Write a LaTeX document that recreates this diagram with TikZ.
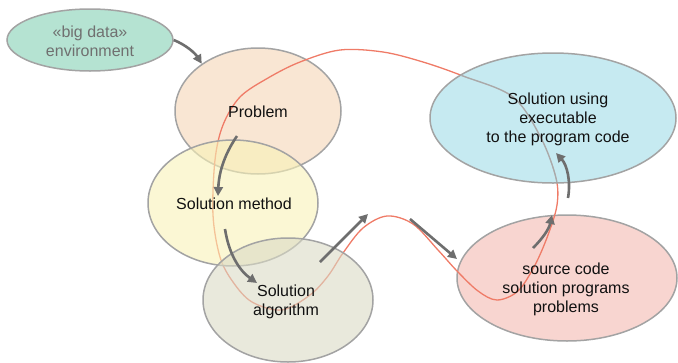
\documentclass[tikz,border=0pt]{standalone}
\usepackage{fontspec}
\setmainfont{Liberation Sans}
\usetikzlibrary{shapes.geometric,arrows.meta}

\definecolor{outl}{HTML}{A3A3A3}
\definecolor{envfill}{RGB}{181,227,210}
\definecolor{probfill}{RGB}{249,230,211}
\definecolor{methfill}{RGB}{248,242,183}
\definecolor{algfill}{RGB}{218,218,197}
\definecolor{exefill}{RGB}{184,229,238}
\definecolor{srcfill}{RGB}{248,213,208}
\definecolor{loopred}{HTML}{EF7B67}
\definecolor{loopgray}{HTML}{A9A9A9}
\definecolor{arrowgray}{HTML}{6E6E6E}
\definecolor{envtext}{HTML}{707070}
\definecolor{maintext}{HTML}{111111}

\tikzset{
  blob/.style={ellipse, draw=outl, line width=1.5pt, inner sep=0pt},
  label16/.style={font=\fontsize{16}{19}\selectfont, text=maintext, align=center, inner sep=0pt},
  flow/.style={draw=arrowgray, line width=2.6pt,
    -{Triangle[length=9pt,width=9pt]}},
  loopline/.style={line width=1.3pt},
}

% closed wavy path running through all stages
\def\looppath{plot[smooth cycle, tension=0.55] coordinates {
  (213,215) (215,160) (223,125) (240,97) (268,78) (300,62) (340,50)
  (383,52) (423,62) (463,76) (513,97) (541,138) (556,178) (557,205)
  (548,235) (535,265) (518,291) (497,300) (478,291) (457,271)
  (438,250) (413,224) (387,216) (363,228) (343,253) (328,276)
  (310,295) (282,310) (252,302) (233,282) (220,257)}}

\begin{document}
\begin{tikzpicture}[x=1pt,y=-1pt]
\useasboundingbox (0,0) rectangle (678,362);

% stage ellipses below the loop
\node[blob, fill=envfill, minimum width=166pt, minimum height=62pt] (env) at (90,40) {};
\node[blob, fill=probfill, minimum width=166pt, minimum height=126pt] (prob) at (258,111) {};
\node[blob, fill=srcfill, minimum width=220pt, minimum height=126pt] (src) at (567,278) {};

% the loop
\draw[loopline, draw=loopred] \looppath;

% translucent stage ellipses above the loop
\node[blob, fill=methfill, fill opacity=0.6, minimum width=170pt, minimum height=126pt] (meth) at (233,203) {};
\node[blob, fill=algfill, fill opacity=0.6, minimum width=170pt, minimum height=124pt] (alg) at (288,300) {};
\node[blob, fill=exefill, fill opacity=0.8, minimum width=246pt, minimum height=130pt] (exe) at (553,118) {};

% loop seen through the blue ellipse
\begin{scope}
  \clip (553,118) ellipse [x radius=122, y radius=64];
  \draw[loopline, draw=loopgray] \looppath;
\end{scope}

% labels
\node[label16, text=envtext] (envlbl) at (90,41) {«big data»\\environment};
\node[label16] (problbl) at (258,112) {Problem};
\node[label16] (methlbl) at (234,204) {Solution method};
\node[label16] (alglbl) at (286,302) {Solution\\algorithm};
\node[label16] (exelbl) at (558,119) {Solution using\\executable\\to the program code};
\node[label16] (srclbl) at (566,289) {source code\\solution programs\\problems};

% arrow end points
\coordinate (a2s) at (237,136);
\coordinate (a2e) at (218,196);
\coordinate (a3s) at (225,229);
\coordinate (a3e) at (257,283);
\coordinate (a4s) at (320,262);
\coordinate (a4e) at (368,214);
\coordinate (a5s) at (410,219);
\coordinate (a5e) at (457,259);
\coordinate (a6s) at (533,248);
\coordinate (a6e) at (552,215);
\coordinate (a7s) at (568,198);
\coordinate (a7e) at (556,153);

% flow arrows
\draw[flow] (env.east) .. controls (186,45) and (195,53) .. (prob.140);
\draw[flow] (a2s) .. controls (226,152) and (219,170) .. (a2e);
\draw[flow] (a3s) .. controls (229,255) and (240,271) .. (a3e);
\draw[flow] (a4s) -- (a4e);
\draw[flow] (a5s) -- (a5e);
\draw[flow] (a6s) .. controls (543,238) and (549,229) .. (a6e);
\draw[flow] (a7s) .. controls (571,181) and (567,165) .. (a7e);
\end{tikzpicture}
\end{document}
